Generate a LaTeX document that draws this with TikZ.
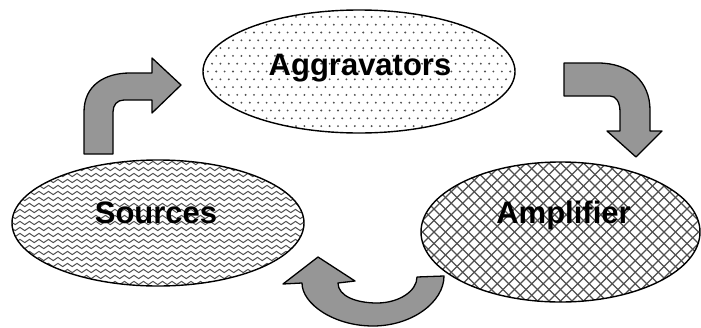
\documentclass[tikz,border=0pt]{standalone}
\usepackage{fontspec}
\setmainfont{Liberation Sans}
\usetikzlibrary{shapes.geometric,decorations.pathmorphing}
\definecolor{arrowgray}{RGB}{150,150,150}
\definecolor{patgray}{RGB}{80,80,80}
\begin{document}
\begin{tikzpicture}[x=1pt,y=-1pt,
  blob/.style={ellipse, draw=black, line width=1.4pt, inner sep=0pt},
  lbl/.style={font=\bfseries\fontsize{31}{31}\selectfont, anchor=base, inner sep=0pt},
  bentarrow/.style={fill=arrowgray, draw=black, line width=1.3pt, line join=round},
  hatch/.style={patgray, line width=1.3pt},
  wave/.style={patgray, line width=1pt, decorate, decoration={snake, segment length=9.5pt, amplitude=1.6pt}}]
\useasboundingbox (0,0) rectangle (701,327);

% Aggravators (dotted)
\node[blob, minimum width=312pt, minimum height=123pt, path picture={
  \foreach \j in {-9,...,9}{\foreach \i in {-20,...,20}{
    \fill[patgray] ([shift={({\i*8.4+mod(abs(\j),2)*4.2},{\j*7.8})}]path picture bounding box.center) circle (1.05pt);}}
}] (agg) at (359,71.5) {};

% Sources (waves)
\node[blob, minimum width=292pt, minimum height=126pt, path picture={
  \foreach \j in {-11,...,11}{
    \draw[wave] ([shift={(-160,\j*6)}]path picture bounding box.center) -- ++(320,0);}
}] (src) at (158,223) {};

% Amplifier (crosshatch)
\node[blob, minimum width=279pt, minimum height=140pt, path picture={
  \foreach \i in {-28,...,28}{
    \draw[hatch] ([shift={(\i*11.5-160,-160)}]path picture bounding box.center) -- ++(320,320);
    \draw[hatch] ([shift={(\i*11.5+160,-160)}]path picture bounding box.center) -- ++(-320,320);}
}] (amp) at (560.5,232) {};

% labels
\node[lbl] (taggr) at (360,75) {Aggravators};
\node[lbl] (tsrc) at (156,223) {Sources};
\node[lbl] (tamp) at (563.5,223) {Amplifier};

% bent arrow: Sources -> Aggravators
\draw[bentarrow] (84,154) -- (84,112) .. controls (84,85) and (105,73) .. (130,73)
  -- (152,73) -- (152,58) -- (181,85) -- (152,113) -- (152,100) -- (124,100)
  .. controls (117,100) and (113,105) .. (113,112) -- (113,154) -- cycle;

% bent arrow: Aggravators -> Amplifier
\draw[bentarrow] (564,63) -- (598,63) .. controls (630,63) and (650,82) .. (650,110)
  -- (650,131) -- (662,131) -- (636,157) -- (607,131) -- (620,131) -- (620,112)
  .. controls (620,102) and (616,96) .. (610,96) -- (564,96) -- cycle;

% U-turn arrow: Amplifier -> Sources
\draw[bentarrow] (417,277) -- (444,276)
  .. controls (444,302) and (412,326) .. (373,326)
  .. controls (334,326) and (302,304) .. (302,283)
  -- (283,284) -- (318,257) -- (355,281) -- (338,283)
  .. controls (338,296) and (356,303) .. (377,303)
  .. controls (399,303) and (417,291) .. (417,277) -- cycle;
\end{tikzpicture}
\end{document}
